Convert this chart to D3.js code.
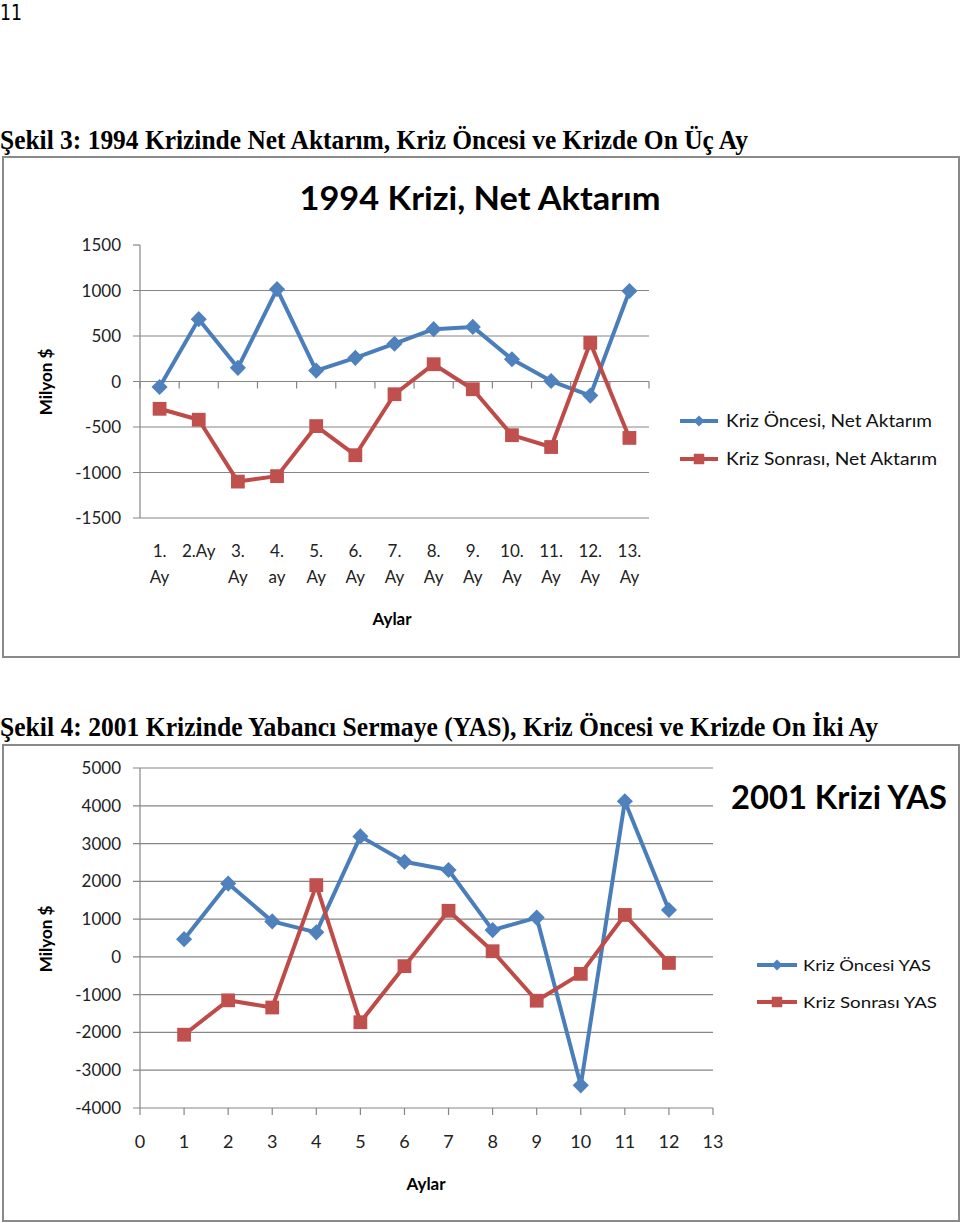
<!DOCTYPE html>
<html><head><meta charset="utf-8">
<script src="https://cdn.jsdelivr.net/npm/d3@7"></script>
<style>body{margin:0;background:#fff}svg{display:block}</style>
</head><body>
<svg id="c" width="960" height="1223"></svg>
<script>
// ---------- DATA ----------
const pageNumber = "11";
const caption1 = "Şekil 3: 1994 Krizinde Net Aktarım, Kriz Öncesi ve Krizde On Üç Ay";
const caption2 = "Şekil 4: 2001 Krizinde Yabancı Sermaye (YAS), Kriz Öncesi ve Krizde On İki Ay";
const title1 = "1994 Krizi, Net Aktarım";
const title2 = "2001 Krizi YAS";
const yLabel = "Milyon $";
const xLabel = "Aylar";
const legend1 = ["Kriz Öncesi, Net Aktarım", "Kriz Sonrası, Net Aktarım"];
const legend2 = ["Kriz Öncesi YAS", "Kriz Sonrası YAS"];

const topCats = ["1. Ay","2.Ay","3. Ay","4. ay","5. Ay","6. Ay","7. Ay","8. Ay","9. Ay","10. Ay","11. Ay","12. Ay","13. Ay"];
const topBefore = [-60, 685, 150, 1015, 120, 260, 415, 575, 600, 245, 5, -155, 995];
const topAfter  = [-300, -420, -1100, -1040, -490, -810, -140, 190, -85, -590, -720, 425, -620];
const topYTicks = [-1500, -1000, -500, 0, 500, 1000, 1500];

const botMonths = [1,2,3,4,5,6,7,8,9,10,11,12];
const botBefore = [470, 1940, 940, 650, 3190, 2520, 2300, 710, 1040, -3400, 4120, 1240];
const botAfter  = [-2060, -1150, -1340, 1900, -1730, -245, 1220, 150, -1160, -450, 1110, -160];
const botYTicks = [-4000,-3000,-2000,-1000,0,1000,2000,3000,4000,5000];
const botXTicks = [0,1,2,3,4,5,6,7,8,9,10,11,12,13];

// ---------- STYLE ----------
const BLUE_L = "#4A7EBB", BLUE_M = "#4F81BD";
const RED_L = "#BE4B48", RED_M = "#C0504D";
const GRID = "#868686";
const FONT = "Lato, 'Open Sans', sans-serif";

const svg = d3.select("#c");

svg.append("text").attr("x", 0).attr("y", 20).text(pageNumber)
  .attr("font-family", "'DejaVu Sans Condensed', 'DejaVu Sans', sans-serif").attr("font-size", 21)
  .attr("textLength", 22).attr("lengthAdjust", "spacingAndGlyphs");

function caption(txt, y, w) {
  svg.append("text").attr("x", 0).attr("y", y).text(txt)
    .attr("font-family", "'Liberation Serif', 'Times New Roman', serif")
    .attr("font-weight", "bold").attr("font-size", 28)
    .attr("textLength", w).attr("lengthAdjust", "spacingAndGlyphs");
}
caption(caption1, 149, 748);
caption(caption2, 736, 878);

function box(y0, y1) {
  svg.append("rect").attr("x", 3).attr("y", y0).attr("width", 956).attr("height", y1 - y0)
    .attr("fill", "none").attr("stroke", "#8a8a8a").attr("stroke-width", 2);
}
box(157, 657);
box(745, 1221);

const diamond = d3.symbol().type(d3.symbolSquare).size(130);
const square = d3.symbol().type(d3.symbolSquare).size(190);

function series(g, pts, lineColor, markColor, isDiamond) {
  g.append("path").datum(pts)
    .attr("d", d3.line().x(d => d[0]).y(d => d[1]))
    .attr("fill", "none").attr("stroke", lineColor).attr("stroke-width", 4)
    .attr("stroke-linejoin", "round").attr("stroke-linecap", "round");
  g.selectAll(null).data(pts).enter().append("path")
    .attr("d", isDiamond ? diamond : square)
    .attr("transform", d => `translate(${d[0]},${d[1]})` + (isDiamond ? " rotate(45)" : ""))
    .attr("fill", markColor);
}

function legend(x0, x1, y, labels, tx, fs, widths) {
  const g = svg.append("g");
  [[BLUE_L, BLUE_M, true], [RED_L, RED_M, false]].forEach((s, i) => {
    const yy = y[i];
    g.append("line").attr("x1", x0).attr("x2", x1).attr("y1", yy).attr("y2", yy)
      .attr("stroke", s[0]).attr("stroke-width", 4);
    g.append("path").attr("d", s[2] ? d3.symbol().type(d3.symbolSquare).size(60) : d3.symbol().type(d3.symbolSquare).size(110))
      .attr("transform", `translate(${(x0 + x1) / 2},${yy})` + (s[2] ? " rotate(45)" : ""))
      .attr("fill", s[1]);
    g.append("text").attr("x", tx).attr("y", yy + 6).text(labels[i])
      .attr("font-family", FONT).attr("font-size", fs).attr("fill", "#111")
      .attr("textLength", widths[i]).attr("lengthAdjust", "spacingAndGlyphs");
  });
}

function yTitle(cy) {
  svg.append("text").attr("transform", `translate(52,${cy}) rotate(-90)`)
    .attr("text-anchor", "middle").text(yLabel)
    .attr("font-family", FONT).attr("font-weight", "bold").attr("font-size", 17);
}

// ---------- CHART 1 ----------
{
  const g = svg.append("g");
  const x = d3.scaleBand().domain(topCats).range([140, 649]).padding(0);
  const y = d3.scaleLinear().domain([-1500, 1500]).range([518, 245]);

  g.selectAll(".grid").data(topYTicks.filter(v => v !== 1500)).enter().append("line")
    .attr("x1", 133).attr("x2", 649).attr("y1", d => y(d)).attr("y2", d => y(d))
    .attr("stroke", GRID).attr("stroke-width", 1.2);
  g.append("line").attr("x1", 133).attr("x2", 140).attr("y1", y(1500)).attr("y2", y(1500))
    .attr("stroke", GRID).attr("stroke-width", 1.2);
  g.append("line").attr("x1", 140).attr("x2", 140).attr("y1", y(1500)).attr("y2", y(-1500))
    .attr("stroke", GRID).attr("stroke-width", 1.2);
  const bounds = topCats.map(c => x(c)).concat([x.range()[1]]);
  g.selectAll(".xt").data(bounds).enter().append("line")
    .attr("x1", d => d).attr("x2", d => d).attr("y1", y(0)).attr("y2", y(0) + 7)
    .attr("stroke", GRID).attr("stroke-width", 1.2);

  g.selectAll(".yl").data(topYTicks).enter().append("text")
    .attr("x", 121).attr("y", d => y(d) + 6).attr("text-anchor", "end").text(d => d)
    .attr("font-family", FONT).attr("font-size", 17).attr("fill", "#222");

  const xl = g.selectAll(".xl").data(topCats).enter().append("text")
    .attr("text-anchor", "middle").attr("font-family", FONT).attr("font-size", 17).attr("fill", "#222");
  xl.each(function (d) {
    const parts = d.split(" ");
    const t = d3.select(this);
    parts.forEach((p, i) => {
      t.append("tspan").attr("x", x(d) + x.bandwidth() / 2).attr("y", 557 + i * 26).text(p);
    });
  });

  g.append("text").attr("x", 392).attr("y", 625).attr("text-anchor", "middle").text(xLabel)
    .attr("font-family", FONT).attr("font-weight", "bold").attr("font-size", 17);

  series(g, topCats.map((c, i) => [x(c) + x.bandwidth() / 2, y(topBefore[i])]), BLUE_L, BLUE_M, true);
  series(g, topCats.map((c, i) => [x(c) + x.bandwidth() / 2, y(topAfter[i])]), RED_L, RED_M, false);

  svg.append("text").attr("x", 480).attr("y", 210).attr("text-anchor", "middle").text(title1)
    .attr("font-family", FONT).attr("font-weight", "bold").attr("font-size", 33)
    .attr("textLength", 361).attr("lengthAdjust", "spacingAndGlyphs");
  yTitle(382);
  legend(680, 718, [421, 459], legend1, 726, 17, [206, 211]);
}

// ---------- CHART 2 ----------
{
  const g = svg.append("g");
  const x = d3.scaleLinear().domain([0, 13]).range([140, 713]);
  const y = d3.scaleLinear().domain([-4000, 5000]).range([1108, 768]);

  g.selectAll(".grid").data(botYTicks).enter().append("line")
    .attr("x1", 133).attr("x2", 713).attr("y1", d => y(d)).attr("y2", d => y(d))
    .attr("stroke", GRID).attr("stroke-width", 1.2);
  g.append("line").attr("x1", 140).attr("x2", 140).attr("y1", y(5000)).attr("y2", y(-4000))
    .attr("stroke", GRID).attr("stroke-width", 1.2);
  g.selectAll(".xt").data(botXTicks).enter().append("line")
    .attr("x1", d => x(d)).attr("x2", d => x(d)).attr("y1", y(-4000)).attr("y2", y(-4000) + 7)
    .attr("stroke", GRID).attr("stroke-width", 1.2);

  g.selectAll(".yl").data(botYTicks).enter().append("text")
    .attr("x", 121).attr("y", d => y(d) + 6).attr("text-anchor", "end").text(d => d)
    .attr("font-family", FONT).attr("font-size", 17).attr("fill", "#222");
  g.selectAll(".xl").data(botXTicks).enter().append("text")
    .attr("x", d => x(d)).attr("y", 1148).attr("text-anchor", "middle").text(d => d)
    .attr("font-family", FONT).attr("font-size", 18).attr("fill", "#222");

  g.append("text").attr("x", 426).attr("y", 1190).attr("text-anchor", "middle").text(xLabel)
    .attr("font-family", FONT).attr("font-weight", "bold").attr("font-size", 17);

  series(g, botMonths.map((m, i) => [x(m), y(botBefore[i])]), BLUE_L, BLUE_M, true);
  series(g, botMonths.map((m, i) => [x(m), y(botAfter[i])]), RED_L, RED_M, false);

  svg.append("text").attr("x", 839).attr("y", 809).attr("text-anchor", "middle").text(title2)
    .attr("font-family", FONT).attr("font-weight", "bold").attr("font-size", 33)
    .attr("textLength", 216).attr("lengthAdjust", "spacingAndGlyphs");
  yTitle(939);
  legend(757, 797, [965, 1002], legend2, 803, 16, [128, 134]);
}
</script>
</body></html>
